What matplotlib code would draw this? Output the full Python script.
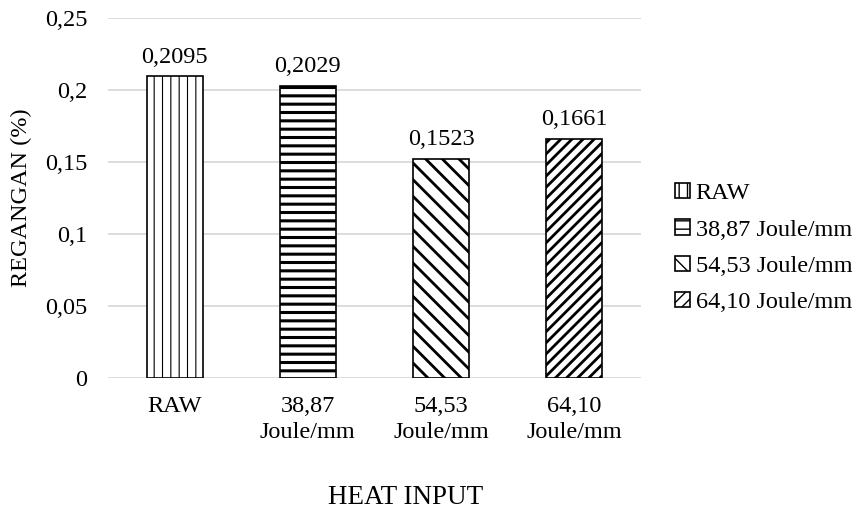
import matplotlib
matplotlib.use('Agg')
import matplotlib.pyplot as plt
import numpy as np

categories = ['RAW', '38,87\nJoule/mm', '54,53\nJoule/mm', '64,10\nJoule/mm']
legend_labels = ['RAW', '38,87 Joule/mm', '54,53 Joule/mm', '64,10 Joule/mm']
values = [0.2095, 0.2029, 0.1523, 0.1661]
value_labels = ['0,2095', '0,2029', '0,1523', '0,1661']
yticks = [0, 0.05, 0.1, 0.15, 0.2, 0.25]
ytick_labels = ['0', '0,05', '0,1', '0,15', '0,2', '0,25']

hatches = ['||', '--', '\\\\', '///']
hatch_lw = [0.8, 2.2, 2.0, 2.0]

plt.rcParams['font.family'] = ['Liberation Serif', 'DejaVu Serif']
plt.rcParams['font.size'] = 17.5

fig = plt.figure(figsize=(8.56, 5.13), dpi=100)
ax = fig.add_axes([108/856, 1-378/513, (641-108)/856, (378-18)/513])

x = np.arange(len(categories))
for i in range(len(categories)):
    with plt.rc_context({'hatch.linewidth': hatch_lw[i]}):
        b = ax.bar(x[i], values[i], width=0.42, color='white', edgecolor='black',
                   linewidth=1.2, hatch=hatches[i], label=legend_labels[i], zorder=3)
    for p in b:
        if hasattr(p, 'set_hatch_linewidth'):
            p.set_hatch_linewidth(hatch_lw[i])
    ax.text(x[i], values[i] + 0.006, value_labels[i], ha='center', va='bottom')

ax.set_xlim(-0.5, len(categories) - 0.5)
ax.set_ylim(0, 0.25)
ax.set_yticks(yticks)
ax.set_yticklabels(ytick_labels)
ax.set_xticks(x)
ax.set_xticklabels(categories, linespacing=1.3)
ax.tick_params(axis='y', length=0, pad=15)
ax.tick_params(axis='x', length=0, pad=13)
ax.grid(axis='y', color='#d9d9d9', linewidth=1.3, zorder=0)
ax.set_axisbelow(True)
for s in ax.spines.values():
    s.set_visible(False)

ax.set_ylabel('REGANGAN (%)', labelpad=9)
ax.set_xlabel('HEAT INPUT', fontsize=19.5)
ax.xaxis.set_label_coords((406-108)/533, -(485-378)/360, transform=ax.transAxes)
ax.xaxis.label.set_va('top')

leg = ax.legend(loc='upper left', bbox_to_anchor=(675/856, 1-183/513),
                bbox_transform=fig.transFigure, frameon=False,
                handlelength=0.6, handleheight=0.6, handletextpad=0.25,
                labelspacing=0.62, borderaxespad=0, borderpad=0)

fig.savefig('out.png', dpi=100)
